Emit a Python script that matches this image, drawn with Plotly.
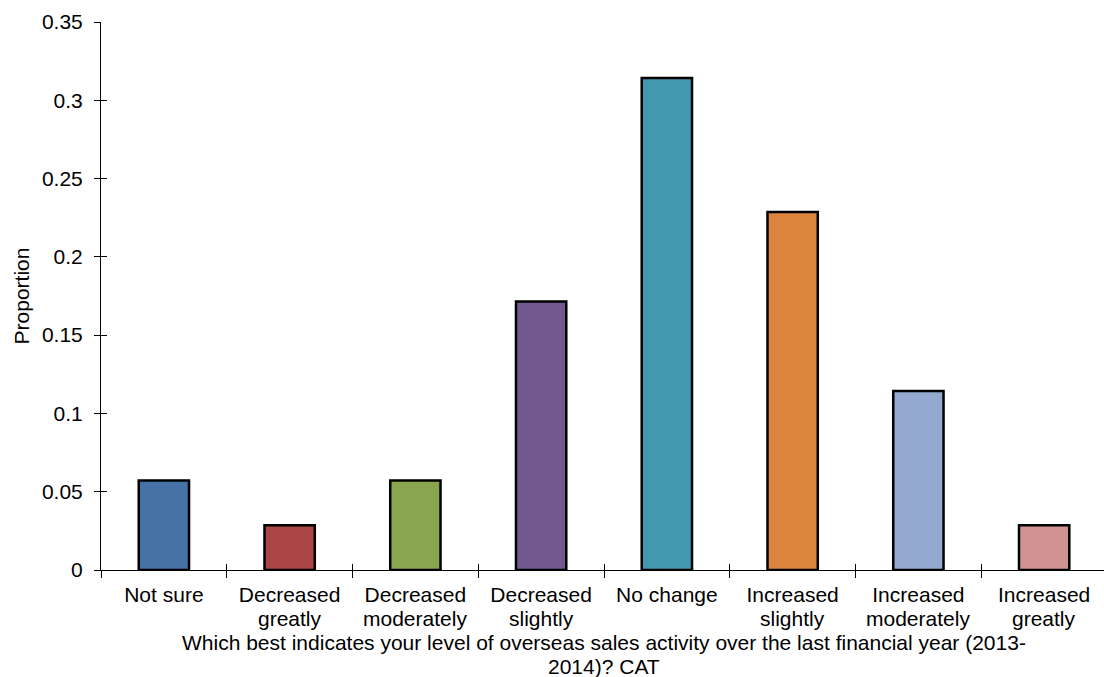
import plotly.graph_objects as go

# category labels, split into first and second display lines
label_line1 = ["Not sure", "Decreased", "Decreased", "Decreased",
               "No change", "Increased", "Increased", "Increased"]
label_line2 = ["", "greatly", "moderately", "slightly",
               "", "slightly", "moderately", "greatly"]
categories = [f"{a} {b}".strip() for a, b in zip(label_line1, label_line2)]
proportions = [2 / 35, 1 / 35, 2 / 35, 6 / 35, 11 / 35, 8 / 35, 4 / 35, 1 / 35]
bar_colors = ["#4572A7", "#AA4643", "#89A54E", "#71588F",
              "#4198AF", "#DB843D", "#93A9CF", "#D19392"]
y_ticks = [0, 0.05, 0.1, 0.15, 0.2, 0.25, 0.3, 0.35]
y_tick_text = ["0", "0.05", "0.1", "0.15", "0.2", "0.25", "0.3", "0.35"]
x_title_lines = [
    "Which best indicates your level of overseas sales activity over the last financial year (2013-",
    "2014)? CAT",
]

FONT = "Liberation Sans, Arial, sans-serif"
FS = 21

fig = go.Figure()
fig.add_trace(go.Bar(
    x=categories,
    y=proportions,
    width=0.4,
    marker=dict(color=bar_colors, line=dict(color="black", width=2.5)),
    showlegend=False,
))

x_range = [-0.5, 7.476]
y_range = [0, 0.35]

fig.update_layout(
    width=1104, height=677,
    margin=dict(l=101, r=0, t=22, b=107),
    paper_bgcolor="white", plot_bgcolor="white",
    font=dict(family=FONT, size=FS, color="black"),
    xaxis=dict(
        type="category", range=x_range,
        categoryarray=categories, categoryorder="array",
        tickvals=categories, ticktext=label_line1,
        showline=True, linecolor="black", linewidth=1,
        ticks="outside", ticklen=7, tickcolor="black", tickwidth=1,
        tickson="boundaries", showgrid=False, zeroline=False,
        tickfont=dict(size=FS), ticklabelstandoff=6,
    ),
    yaxis=dict(
        range=y_range, tickvals=y_ticks, ticktext=y_tick_text,
        showline=True, linecolor="black", linewidth=1,
        ticks="outside", ticklen=6, tickcolor="black", tickwidth=1,
        showgrid=False, zeroline=False, ticklabelstandoff=7,
        tickfont=dict(size=FS),
        title=dict(text="Proportion", font=dict(size=FS), standoff=6),
    ),
    # overlay axes that carry the inner half of the crossing tick marks
    xaxis2=dict(
        type="category", range=x_range, overlaying="x", anchor="y",
        side="bottom",
        ticks="inside", ticklen=6, tickcolor="black", tickwidth=1,
        tickson="boundaries", showticklabels=False, showgrid=False,
        zeroline=False, showline=False,
        categoryarray=categories, categoryorder="array",
    ),
    yaxis2=dict(
        range=y_range, tickvals=y_ticks, overlaying="y", anchor="x",
        side="left", ticks="inside", ticklen=6, tickcolor="black",
        tickwidth=1, showticklabels=False, showgrid=False,
        zeroline=False, showline=False,
    ),
)

# invisible trace so the overlay axes are drawn
fig.add_trace(go.Scatter(
    x=categories, y=proportions, xaxis="x2", yaxis="y2",
    mode="markers", marker=dict(opacity=0), hoverinfo="skip",
    showlegend=False,
))

# second line of the wrapped category labels
for cat, second in zip(categories, label_line2):
    if second:
        fig.add_annotation(
            x=cat, xref="x", y=0, yref="paper", yanchor="middle",
            yshift=-48.5, text=second, showarrow=False,
            font=dict(size=FS, color="black"),
        )

# x-axis title, wrapped over two lines
for i, line in enumerate(x_title_lines):
    fig.add_annotation(
        x=3.5, xref="x", y=0, yref="paper", yanchor="middle",
        yshift=-72.5 - 23.5 * i, text=line, showarrow=False,
        font=dict(size=FS, color="black"),
    )

fig.write_html("out.html")
